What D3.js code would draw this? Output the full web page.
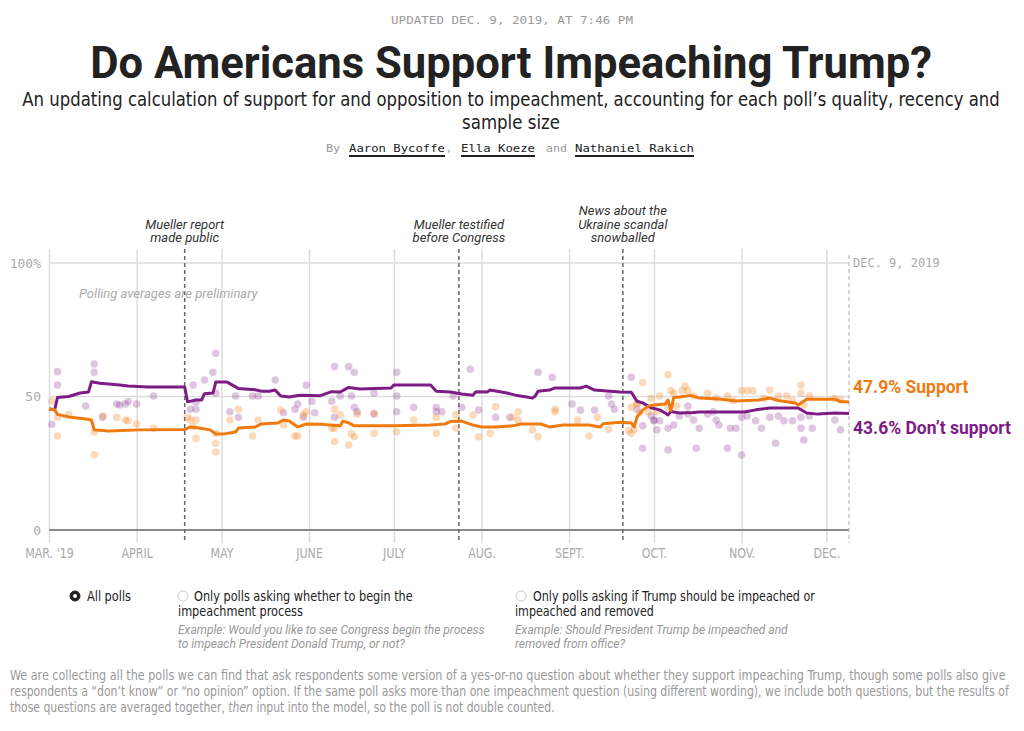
<!DOCTYPE html>
<html>
<head>
<meta charset="utf-8">
<script src="https://cdn.jsdelivr.net/npm/d3@7"></script>
<style>
  body { margin: 0; background: #fff; }
  svg { display: block; }
  .mono { font-family: 'DejaVu Sans Mono', monospace; }
  .cond { font-family: 'Liberation Sans Narrow', 'DejaVu Sans Condensed', sans-serif; }
  .sans { font-family: Roboto, 'Noto Sans', sans-serif; }
</style>
</head>
<body>
<div id="chart"></div>
<script>
// polling averages (percent)
const supportAvg = [
  ["2019-03-01",45.3],["2019-03-03",45.0],["2019-03-04",43.3],["2019-03-08",42.3],["2019-03-14",41.6],["2019-03-16",41.2],
  ["2019-03-17",37.5],["2019-03-22",37.1],["2019-04-02",37.5],["2019-04-18",37.6],["2019-04-20",38.6],["2019-04-23",38.2],
  ["2019-04-27",37.5],["2019-04-29",36.0],["2019-05-02",36.0],["2019-05-06",36.7],["2019-05-07",38.2],["2019-05-13",38.6],
  ["2019-05-15",39.7],["2019-05-21",40.1],["2019-05-23",41.2],["2019-05-25",40.8],["2019-05-28",38.6],["2019-05-31",39.7],
  ["2019-06-05",39.6],["2019-06-12",39.0],["2019-06-13",40.8],["2019-06-15",40.1],["2019-06-17",39.0],["2019-07-01",39.0],
  ["2019-07-14",39.3],["2019-07-19",39.7],["2019-07-21",40.6],["2019-07-25",40.8],["2019-07-29",39.3],["2019-08-01",38.6],
  ["2019-08-06",38.6],["2019-08-12",39.0],["2019-08-15",39.7],["2019-08-22",39.7],["2019-08-25",38.6],["2019-08-30",39.3],
  ["2019-09-08",39.3],["2019-09-12",38.6],["2019-09-13",39.8],["2019-09-19",40.4],["2019-09-23",40.1],["2019-09-24",38.6],
  ["2019-09-25",42.3],["2019-09-27",44.9],["2019-09-29",46.4],["2019-10-01",46.8],["2019-10-05",47.2],["2019-10-06",48.7],
  ["2019-10-07",44.7],["2019-10-08",49.6],["2019-10-10",49.8],["2019-10-14",50.4],["2019-10-17",49.4],["2019-10-24",49.1],
  ["2019-10-30",48.3],["2019-11-07",48.7],["2019-11-11",49.4],["2019-11-14",48.5],["2019-11-20",47.6],["2019-11-21",46.8],
  ["2019-11-24",49.0],["2019-12-04",49.0],["2019-12-06",48.1],["2019-12-09",47.9]
];
const opposeAvg = [
  ["2019-03-01",45.3],["2019-03-03",45.0],["2019-03-04",49.6],["2019-03-08",50.0],["2019-03-12",51.3],["2019-03-15",51.7],
  ["2019-03-16",55.5],["2019-03-19",55.0],["2019-03-22",54.7],["2019-03-26",54.3],["2019-03-29",53.9],["2019-04-05",53.6],
  ["2019-04-18",53.6],["2019-04-19",48.0],["2019-04-22",48.7],["2019-04-24",48.7],["2019-04-25",51.0],["2019-04-28",51.3],
  ["2019-04-29",55.4],["2019-05-03",55.4],["2019-05-06",53.6],["2019-05-07",53.0],["2019-05-13",52.5],["2019-05-15",52.0],
  ["2019-05-18",52.0],["2019-05-20",52.4],["2019-05-22",50.2],["2019-05-25",49.8],["2019-05-27",50.2],["2019-05-29",50.5],
  ["2019-06-05",50.3],["2019-06-09",51.8],["2019-06-12",51.7],["2019-06-15",53.4],["2019-06-19",52.8],["2019-06-30",53.2],
  ["2019-07-01",54.3],["2019-07-14",54.3],["2019-07-16",52.0],["2019-07-21",51.7],["2019-07-25",50.9],["2019-07-29",50.5],
  ["2019-07-30",51.8],["2019-08-03",51.7],["2019-08-04",52.4],["2019-08-10",51.3],["2019-08-13",50.5],["2019-08-17",49.8],
  ["2019-08-19",49.4],["2019-08-20",50.2],["2019-08-21",52.0],["2019-08-25",52.4],["2019-08-27",53.2],["2019-09-05",53.2],
  ["2019-09-07",53.9],["2019-09-10",52.4],["2019-09-19",51.7],["2019-09-23",51.6],["2019-09-25",48.2],["2019-09-27",47.6],
  ["2019-09-30",45.8],["2019-10-03",45.0],["2019-10-05",43.8],["2019-10-06",43.1],["2019-10-07",44.4],["2019-10-10",43.8],
  ["2019-10-15",44.0],["2019-10-17",44.2],["2019-11-02",44.2],["2019-11-06",45.0],["2019-11-11",45.7],["2019-11-21",45.7],
  ["2019-11-24",43.8],["2019-11-28",43.4],["2019-12-04",43.8],["2019-12-09",43.6]
];

// individual polls
const supportPolls = [
  ["2019-03-02",48.3],["2019-03-04",42.2],["2019-03-04",35.2],["2019-03-08",43.3],["2019-03-17",36.8],["2019-03-17",28.1],
  ["2019-03-20",42.8],["2019-03-25",42.2],["2019-03-28",41.2],["2019-03-29",40.9],["2019-04-01",39.7],["2019-04-07",38.1],
  ["2019-04-19",42.2],["2019-04-20",41.2],["2019-04-21",38.7],["2019-04-22",34.3],["2019-04-22",41.2],["2019-04-29",36.2],
  ["2019-04-29",32.5],["2019-04-29",29.2],["2019-05-04",41.2],["2019-05-07",45.2],["2019-05-12",35.2],["2019-05-14",41.2],
  ["2019-05-22",44.9],["2019-05-23",39.3],["2019-05-27",35.2],["2019-05-28",35.2],["2019-05-30",43.1],["2019-05-31",44.3],
  ["2019-06-10",45.2],["2019-06-10",38.1],["2019-06-09",38.1],["2019-06-10",33.1],["2019-06-12",43.1],["2019-06-15",31.8],
  ["2019-06-16",36.0],["2019-06-17",34.9],["2019-06-18",43.4],["2019-06-24",43.7],["2019-06-24",36.2],["2019-07-02",36.8],
  ["2019-07-08",41.2],["2019-07-16",42.2],["2019-07-16",36.2],["2019-07-23",43.1],["2019-07-23",38.1],["2019-07-29",43.1],
  ["2019-07-31",34.9],["2019-08-04",36.2],["2019-08-06",46.2],["2019-08-12",42.2],["2019-08-14",44.3],["2019-08-14",41.2],
  ["2019-08-19",37.5],["2019-08-21",34.9],["2019-08-27",45.2],["2019-08-27",44.3],["2019-09-04",41.2],["2019-09-08",35.2],
  ["2019-09-11",42.2],["2019-09-15",37.7],["2019-09-23",36.2],["2019-09-22",37.2],["2019-09-24",37.7],["2019-09-23",46.0],
  ["2019-09-25",47.5],["2019-09-25",47.2],["2019-09-26",43.9],["2019-09-27",55.2],["2019-09-29",44.3],["2019-09-30",49.3],
  ["2019-10-02",44.3],["2019-10-03",50.2],["2019-10-06",46.0],["2019-10-06",58.1],["2019-10-07",52.2],["2019-10-08",51.2],
  ["2019-10-09",46.4],["2019-10-11",52.2],["2019-10-12",53.9],["2019-10-13",52.2],["2019-10-15",50.2],["2019-10-20",51.2],
  ["2019-10-23",49.3],["2019-10-27",50.2],["2019-10-29",48.4],["2019-11-01",52.2],["2019-11-03",52.2],["2019-11-05",52.2],
  ["2019-11-09",49.3],["2019-11-11",52.4],["2019-11-14",50.2],["2019-11-17",50.2],["2019-11-19",48.4],["2019-11-22",54.3],
  ["2019-11-22",51.2],["2019-11-23",46.8],["2019-11-25",50.2],["2019-12-04",49.3],["2019-12-06",48.7]
];
const opposePolls = [
  ["2019-03-04",59.3],["2019-03-04",54.3],["2019-03-02",39.6],["2019-03-17",62.2],["2019-03-17",59.1],["2019-03-14",46.4],
  ["2019-03-20",42.2],["2019-03-25",47.2],["2019-03-26",46.8],["2019-03-28",47.2],["2019-03-29",48.1],["2019-04-01",47.2],
  ["2019-04-07",50.2],["2019-04-21",54.3],["2019-04-20",45.2],["2019-04-22",47.9],["2019-04-22",45.2],["2019-04-25",56.2],
  ["2019-04-29",66.2],["2019-04-28",59.1],["2019-04-29",51.2],["2019-05-06",50.2],["2019-05-04",44.3],["2019-05-07",42.2],
  ["2019-05-12",50.2],["2019-05-14",50.2],["2019-05-20",56.2],["2019-05-23",43.9],["2019-05-27",45.2],["2019-05-28",47.2],
  ["2019-05-30",42.2],["2019-05-31",54.2],["2019-06-02",48.2],["2019-06-03",43.9],["2019-06-10",61.2],["2019-06-10",42.2],
  ["2019-06-09",48.2],["2019-06-15",61.2],["2019-06-17",59.1],["2019-06-12",50.2],["2019-06-16",50.2],["2019-06-17",46.0],
  ["2019-06-18",44.3],["2019-06-24",51.2],["2019-06-24",43.4],["2019-07-02",59.1],["2019-07-02",50.2],["2019-07-02",44.3],
  ["2019-07-08",46.0],["2019-07-16",46.0],["2019-07-16",44.3],["2019-07-18",44.3],["2019-07-22",50.2],["2019-07-25",46.0],
  ["2019-07-28",60.2],["2019-07-31",44.9],["2019-08-06",42.2],["2019-08-11",42.2],["2019-08-21",59.1],["2019-08-26",57.2],
  ["2019-09-02",47.2],["2019-09-05",44.9],["2019-09-10",44.9],["2019-09-15",50.2],["2019-09-16",47.2],["2019-09-17",45.2],
  ["2019-09-23",57.2],["2019-09-25",45.2],["2019-09-27",39.0],["2019-09-27",30.6],["2019-10-01",41.2],["2019-10-02",37.5],
  ["2019-09-30",42.7],["2019-10-01",40.9],["2019-10-03",40.9],["2019-10-06",38.1],["2019-10-06",30.0],["2019-10-08",39.3],
  ["2019-10-10",42.7],["2019-10-13",46.4],["2019-10-13",43.4],["2019-10-15",41.2],["2019-10-17",38.1],["2019-10-16",30.6],
  ["2019-10-20",43.4],["2019-10-22",44.3],["2019-10-23",41.2],["2019-10-24",39.3],["2019-10-27",30.6],["2019-10-28",38.1],
  ["2019-10-30",38.1],["2019-11-01",42.2],["2019-11-01",28.1],["2019-11-03",42.7],["2019-11-06",40.9],["2019-11-08",38.1],
  ["2019-11-13",32.5],["2019-11-11",42.2],["2019-11-14",42.7],["2019-11-16",40.9],["2019-11-19",40.9],["2019-11-22",42.2],
  ["2019-11-22",38.1],["2019-11-23",33.7],["2019-11-25",42.7],["2019-11-26",38.1],["2019-12-04",41.2],["2019-12-06",37.5]
];

const monthTicks = ["2019-03-01","2019-04-01","2019-05-01","2019-06-01","2019-07-01","2019-08-01","2019-09-01","2019-10-01","2019-11-01","2019-12-01"];
const monthLabels = ["MAR. '19","APRIL","MAY","JUNE","JULY","AUG.","SEPT.","OCT.","NOV.","DEC."];
const yTicks = [0, 50, 100];
const events = [
  {date: "2019-04-18", lines: ["Mueller report", "made public"]},
  {date: "2019-07-24", lines: ["Mueller testified", "before Congress"]},
  {date: "2019-09-20", lines: ["News about the", "Ukraine scandal", "snowballed"]}
];
const lastDate = "2019-12-09";
const latest = {support: 47.9, oppose: 43.6};

const ORANGE = '#ef7b10', PURPLE = '#7e1c85';

const parse = d3.timeParse('%Y-%m-%d');
const width = 1024, height = 731;

const svg = d3.select('#chart').append('svg')
  .attr('width', width).attr('height', height);

// squeeze a text horizontally so it spans w pixels, anchored at (x0, y0)
function fit(sel, x0, y0, w) {
  const n = sel.node().getComputedTextLength();
  sel.attr('x', 0).attr('y', 0)
    .attr('transform', `translate(${x0},${y0}) scale(${w / n},1)`);
  return sel;
}

// header
svg.append('text').attr('class', 'mono')
  .attr('x', 512).attr('y', 24).attr('text-anchor', 'middle')
  .attr('textLength', 242).attr('lengthAdjust', 'spacingAndGlyphs')
  .style('font-size', '11px').style('fill', '#999')
  .text('UPDATED DEC. 9, 2019, AT 7:46 PM');

fit(svg.append('text').attr('class', 'sans').attr('text-anchor', 'middle')
  .style('font-size', '44px').style('font-weight', 700).style('fill', '#222')
  .text('Do Americans Support Impeaching Trump?'), 511, 78, 842);

fit(svg.append('text').attr('class', 'cond').attr('text-anchor', 'middle')
  .style('font-size', '19px').style('fill', '#222')
  .text('An updating calculation of support for and opposition to impeachment, accounting for each poll\u2019s quality, recency and'),
  511, 106, 978);
fit(svg.append('text').attr('class', 'cond').attr('text-anchor', 'middle')
  .style('font-size', '19px').style('fill', '#222')
  .text('sample size'), 511, 129, 98);

// byline
const byline = [
  {t: 'By', x: 326, w: 14, name: false},
  {t: 'Aaron Bycoffe', x: 349, w: 96, name: true},
  {t: ',', x: 446, w: 6, name: false},
  {t: 'Ella Koeze', x: 461, w: 74, name: true},
  {t: 'and', x: 546, w: 21, name: false},
  {t: 'Nathaniel Rakich', x: 575, w: 119, name: true}
];
const by = svg.append('g');
by.selectAll('text').data(byline).join('text')
  .attr('class', 'mono')
  .attr('x', d => d.x).attr('y', 152)
  .attr('textLength', d => d.w).attr('lengthAdjust', 'spacingAndGlyphs')
  .style('font-size', '11px')
  .style('fill', d => d.name ? '#222' : '#999')
  .text(d => d.t);
by.selectAll('rect').data(byline.filter(d => d.name)).join('rect')
  .attr('x', d => d.x).attr('y', 155).attr('width', d => d.w).attr('height', 2)
  .attr('fill', '#222');

// chart
const x = d3.scaleTime().domain([parse('2019-03-01'), parse(lastDate)]).range([49, 849]);
const y = d3.scaleLinear().domain([0, 100]).range([530, 263]);
const gridTop = 249, gridBottom = 543;

const xAxis = svg.append('g')
  .attr('transform', `translate(0,${gridBottom})`)
  .call(d3.axisBottom(x)
    .tickValues(monthTicks.map(parse))
    .tickSize(-(gridBottom - gridTop))
    .tickPadding(5)
    .tickFormat((d, i) => monthLabels[i]));
xAxis.select('.domain').remove();
xAxis.selectAll('line').attr('stroke', '#ddd').attr('stroke-width', 1.5);
xAxis.selectAll('text').attr('class', 'cond')
  .attr('transform', 'scale(0.85,1)')
  .style('font-size', '14.5px').style('fill', '#aaa');

// horizontal gridlines
svg.append('g').selectAll('line').data(yTicks).join('line')
  .attr('x1', x.range()[0]).attr('x2', x.range()[1])
  .attr('y1', d => y(d)).attr('y2', d => y(d))
  .attr('stroke', d => d === 0 ? '#888' : '#ddd')
  .attr('stroke-width', d => d === 0 ? 2 : 1.5);

svg.append('g').selectAll('text').data(yTicks).join('text')
  .attr('class', 'mono')
  .attr('x', 41).attr('y', d => y(d)).attr('dy', '0.35em')
  .attr('text-anchor', 'end')
  .style('font-size', '13px').style('fill', '#aaa')
  .text(d => d === 100 ? '100%' : d);

// today marker
svg.append('line')
  .attr('x1', x(parse(lastDate))).attr('x2', x(parse(lastDate)))
  .attr('y1', 255).attr('y2', gridBottom)
  .attr('stroke', '#bbb').attr('stroke-width', 1.2).attr('stroke-dasharray', '4,3');
svg.append('text').attr('class', 'mono')
  .attr('x', x(parse(lastDate)) + 4).attr('y', 263).attr('dy', '0.35em')
  .style('font-size', '12px').style('fill', '#aaa')
  .text('DEC. 9, 2019');

// event markers
const ev = svg.append('g').selectAll('g').data(events).join('g')
  .attr('transform', d => `translate(${x(parse(d.date))},0)`);
ev.append('line')
  .attr('y1', gridTop).attr('y2', gridBottom)
  .attr('stroke', '#666').attr('stroke-width', 1.5).attr('stroke-dasharray', '4,3');
ev.selectAll('text').data(d => d.lines.map((t, i) => ({t, i, n: d.lines.length}))).join('text')
  .attr('class', 'sans')
  .attr('text-anchor', 'middle')
  .attr('y', d => 242 - (d.n - 1 - d.i) * 13.5)
  .style('font-size', '13px').style('font-style', 'italic').style('fill', '#333')
  .text(d => d.t);

svg.append('text').attr('class', 'sans')
  .attr('x', 79).attr('y', 298)
  .style('font-size', '13px').style('font-style', 'italic').style('fill', '#aaa')
  .text('Polling averages are preliminary');

// poll dots
const dots = svg.append('g');
dots.selectAll('.opp').data(opposePolls).join('circle')
  .attr('class', 'opp')
  .attr('cx', d => x(parse(d[0]))).attr('cy', d => y(d[1])).attr('r', 3.8)
  .attr('fill', PURPLE).attr('fill-opacity', 0.25);
dots.selectAll('.sup').data(supportPolls).join('circle')
  .attr('class', 'sup')
  .attr('cx', d => x(parse(d[0]))).attr('cy', d => y(d[1])).attr('r', 3.8)
  .attr('fill', ORANGE).attr('fill-opacity', 0.28);

// average lines
const line = d3.line().x(d => x(parse(d[0]))).y(d => y(d[1]));
svg.append('path').datum(opposeAvg)
  .attr('d', line).attr('fill', 'none')
  .attr('stroke', PURPLE).attr('stroke-width', 3).attr('stroke-linejoin', 'round');
svg.append('path').datum(supportAvg)
  .attr('d', line).attr('fill', 'none')
  .attr('stroke', ORANGE).attr('stroke-width', 3).attr('stroke-linejoin', 'round');

// end labels
svg.append('text').attr('class', 'sans')
  .attr('x', 853).attr('y', y(latest.support) - 15).attr('dy', '0.35em')
  .style('font-size', '17.5px').style('font-weight', 700).style('fill', ORANGE)
  .text(latest.support + '% Support');
svg.append('text').attr('class', 'sans')
  .attr('x', 853).attr('y', y(latest.oppose) + 14).attr('dy', '0.35em')
  .style('font-size', '17.5px').style('font-weight', 700).style('fill', PURPLE)
  .text(latest.oppose + '% Don\u2019t support');

// radio options
const options = [
  {x: 75, checked: true, lines: [{t: 'All polls', x: 87, w: 44}], example: []},
  {x: 183, checked: false,
   lines: [{t: 'Only polls asking whether to begin the', x: 194, w: 219}, {t: 'impeachment process', x: 178, w: 125}],
   example: [{t: 'Example: Would you like to see Congress begin the process', x: 178}, {t: 'to impeach President Donald Trump, or not?', x: 178}]},
  {x: 521, checked: false,
   lines: [{t: 'Only polls asking if Trump should be impeached or', x: 533, w: 282}, {t: 'impeached and removed', x: 515, w: 139}],
   example: [{t: 'Example: Should President Trump be impeached and', x: 515}, {t: 'removed from office?', x: 515}]}
];
const opt = svg.append('g').selectAll('g').data(options).join('g');
opt.append('circle')
  .attr('cx', d => d.x).attr('cy', 596).attr('r', 5)
  .attr('fill', d => d.checked ? '#222' : '#fff')
  .attr('stroke', d => d.checked ? '#222' : '#ccc').attr('stroke-width', 1);
opt.filter(d => d.checked).append('circle')
  .attr('cx', d => d.x).attr('cy', 596).attr('r', 2).attr('fill', '#fff');
opt.each(function (d) {
  const g = d3.select(this);
  d.lines.forEach((l, i) => {
    fit(g.append('text').attr('class', 'cond')
      .style('font-size', '14px').style('fill', '#222').text(l.t), l.x, 601 + i * 15, l.w);
  });
  d.example.forEach((l, i) => {
    g.append('text').attr('class', 'sans')
      .attr('x', l.x).attr('y', 634 + i * 13.5)
      .style('font-size', '12px').style('font-style', 'italic').style('fill', '#999')
      .text(l.t);
  });
});

// footnote
const foot = svg.append('g').attr('class', 'cond').style('font-size', '13.5px').style('fill', '#999');
fit(foot.append('text')
  .text('We are collecting all the polls we can find that ask respondents some version of a yes-or-no question about whether they support impeaching Trump, though some polls also give'),
  10, 680, 996);
fit(foot.append('text')
  .text('respondents a \u201cdon\u2019t know\u201d or \u201cno opinion\u201d option. If the same poll asks more than one impeachment question (using different wording), we include both questions, but the results of'),
  10, 696, 1000);
const f3 = foot.append('text');
f3.append('tspan').text('those questions are averaged together, ');
f3.append('tspan').style('font-style', 'italic').text('then');
f3.append('tspan').text(' input into the model, so the poll is not double counted.');
fit(f3, 10, 712, 545);
</script>
</body>
</html>
